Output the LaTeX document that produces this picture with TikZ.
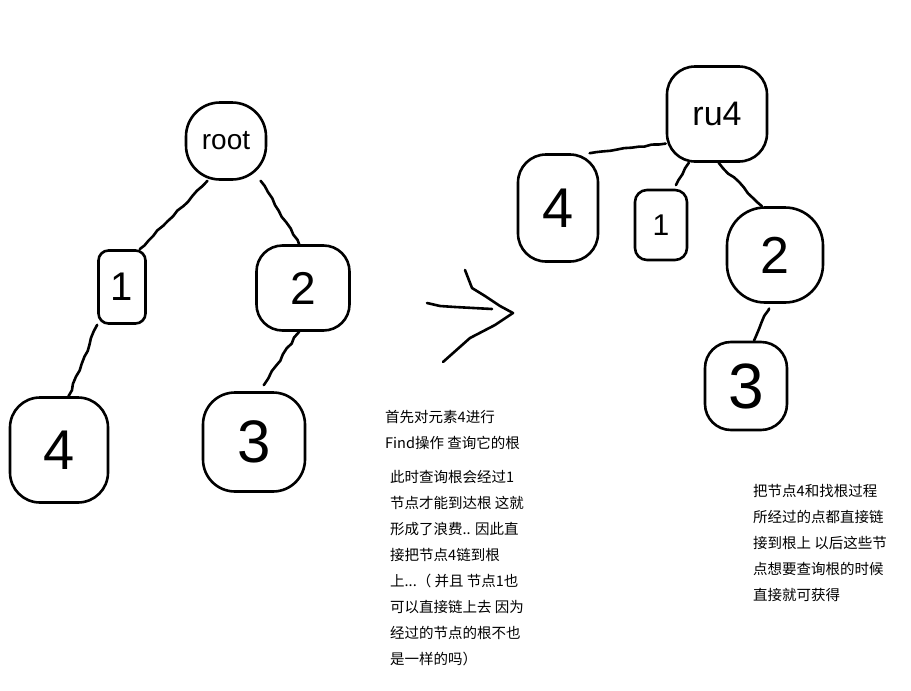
\documentclass[tikz,border=0pt]{standalone}
\usepackage{fontspec}
\setmainfont{Liberation Sans}
\newfontfamily\cjk{Noto Sans CJK SC}
\usetikzlibrary{decorations.pathmorphing}
\begin{document}
\begin{tikzpicture}[x=1pt,y=-1pt,
  ink/.style={line width=2.6pt, line cap=round, line join=round},
  bub/.style={ink, draw, inner sep=0pt, rectangle},
  wire/.style={ink, draw, decorate,
    decoration={random steps,segment length=7pt,amplitude=1pt}},
  note/.style={anchor=north west, align=left, inner sep=0pt,
    font=\cjk\fontsize{14.5}{26}\selectfont}
]
\pgfmathsetseed{7}
\useasboundingbox (0,0) rectangle (911,691);
% left tree
\node[bub, minimum width=80pt, minimum height=77pt, rounded corners=34pt] (lroot) at (226,141) {\fontsize{28}{28}\selectfont root};
\node[bub, minimum width=47pt, minimum height=73pt, rounded corners=10pt] (l1) at (122,287) {\fontsize{40}{40}\selectfont 1};
\node[bub, minimum width=93pt, minimum height=85pt, rounded corners=26pt] (l2) at (303,288) {\fontsize{46}{46}\selectfont 2};
\node[bub, minimum width=98pt, minimum height=105pt, rounded corners=30pt] (l4) at (59,450) {\fontsize{56}{56}\selectfont 4};
\node[bub, minimum width=102pt, minimum height=99pt, rounded corners=32pt] (l3) at (254,442) {\fontsize{60}{60}\selectfont 3};
\draw[wire] (lroot.245) -- (l1.65);
\draw[wire] (lroot.311) -- (l2.95);
\draw[wire] (l1.south west) -- (l4.80);
\draw[wire, shorten >=8pt] (l2.265) -- (l3.85);
% arrow
\draw[ink] (427,303) -- (440,306) -- (455,307) -- (492,309);
\draw[ink] (465,270) -- (472,288) -- (485,296) -- (500,306) -- (513,313) -- (495,325) -- (470,338) -- (443,362);
% right tree
\node[bub, minimum width=100pt, minimum height=95pt, rounded corners=28pt] (rroot) at (717,114) {\fontsize{34}{34}\selectfont ru4};
\node[bub, minimum width=80pt, minimum height=107pt, rounded corners=28pt] (r4) at (558,208) {\fontsize{56}{56}\selectfont 4};
\node[bub, minimum width=52pt, minimum height=70pt, rounded corners=12pt] (r1) at (661,225) {\fontsize{30}{30}\selectfont 1};
\node[bub, minimum width=96pt, minimum height=95pt, rounded corners=38pt] (r2) at (775,255) {\fontsize{52}{52}\selectfont 2};
\node[bub, minimum width=82pt, minimum height=88pt, rounded corners=26pt] (r3) at (746,386) {\fontsize{64}{64}\selectfont 3};
\draw[wire] (rroot.210) -- (r4.60);
\draw[wire, shorten >=4pt] (rroot.240) -- (r1.70);
\draw[wire] (rroot.272) -- (r2.105);
\draw[wire, shorten <=5pt] (r2.265) -- (r3.80);
% notes
\node[note] (t1) at (385,410) {首先对元素4进行\\Find操作 查询它的根};
\node[note] (t2) at (390,470) {此时查询根会经过1\\节点才能到达根 这就\\形成了浪费.. 因此直\\接把节点4链到根\\上...（ 并且 节点1也\\可以直接链上去 因为\\经过的节点的根不也\\是一样的吗）};
\node[note] (t3) at (753,484) {把节点4和找根过程\\所经过的点都直接链\\接到根上 以后这些节\\点想要查询根的时候\\直接就可获得};
\end{tikzpicture}
\end{document}
